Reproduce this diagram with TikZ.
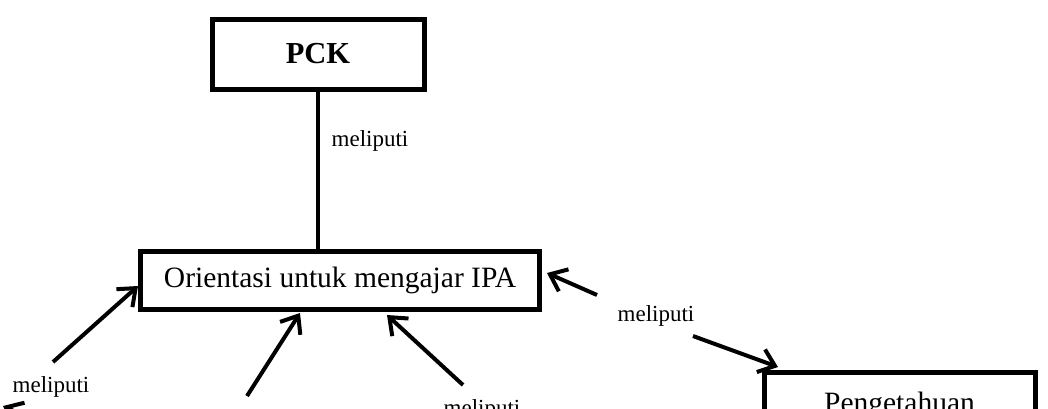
\documentclass[tikz,border=0pt]{standalone}
\usepackage{fontspec}
\setmainfont{Liberation Serif}
\usetikzlibrary{arrows.meta}
\begin{document}
\begin{tikzpicture}[x=1pt,y=-1pt,
  box/.style={draw,line width=5pt,inner sep=0pt,font=\fontsize{29.5}{32}\selectfont},
  lbl/.style={inner sep=1pt,font=\fontsize{23}{26}\selectfont},
  conn/.style={line width=4pt},
  arr/.style={line width=4pt,-{Straight Barb[length=15pt,width=24pt]}}]
\useasboundingbox (0,0) rectangle (1048,408);
\clip (0,0) rectangle (1048,408);
% boxes
\node[box,minimum width=212pt,minimum height=70pt,font=\fontsize{30.5}{33}\selectfont\bfseries] (pck) at (318,54) {PCK};
\node[box,minimum width=399pt,minimum height=58pt] (orient) at (340,280) {Orientasi untuk mengajar IPA};
\node[box,minimum width=271pt,minimum height=66pt,anchor=north] (peng) at (899.5,370) {Pengetahuan};
% labels
\node[lbl] (lt) at (370,141) {meliputi};
\node[lbl] (lr) at (656,316) {meliputi};
\node[lbl] (ll) at (51,387) {meliputi};
\node[lbl] (lm) at (482,410) {meliputi};
% coordinates
\coordinate (a1s) at (53,362);  \coordinate (a1e) at (138,286);
\coordinate (a2s) at (247,396); \coordinate (a2e) at (300,313);
\coordinate (a3s) at (463,385); \coordinate (a3e) at (387,315);
\coordinate (a4s) at (597,295); \coordinate (a4e) at (547,273);
\coordinate (a5s) at (693,336); \coordinate (a5e) at (778,367);
\coordinate (a6s) at (16,412);  \coordinate (a6e) at (3,406);
% connectors
\draw[conn] (pck.south) -- (pck.south |- orient.north);
\draw[arr] (a1s) -- (a1e);
\draw[arr] (a2s) -- (a2e);
\draw[arr] (a3s) -- (a3e);
\draw[arr] (a4s) -- (a4e);
\draw[arr] (a5s) -- (a5e);
\draw[arr] (a6s) -- (a6e);
\end{tikzpicture}
\end{document}
